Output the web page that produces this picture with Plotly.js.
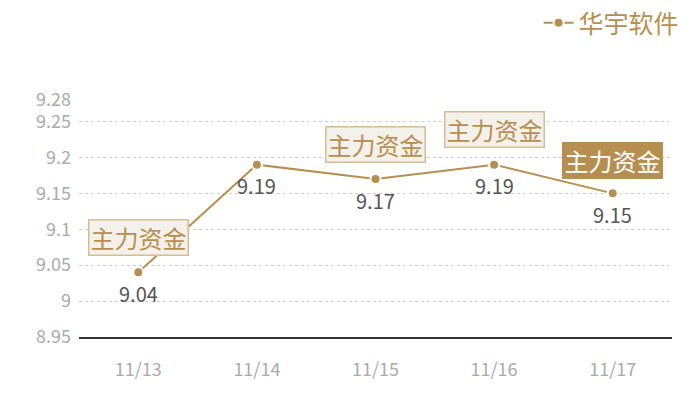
<!DOCTYPE html>
<html>
<head>
<meta charset="utf-8">
<script src="https://cdn.plot.ly/plotly-3.0.1.min.js"></script>
<style>
html, body { margin: 0; padding: 0; background: #fff; }
#chart { width: 700px; height: 400px; }
</style>
</head>
<body>
<div id="chart"></div>
<script>
var days = ['11/13', '11/14', '11/15', '11/16', '11/17'];
var prices = [9.04, 9.19, 9.17, 9.19, 9.15];
var priceLabels = ['9.04', '9.19', '9.17', '9.19', '9.15'];
var yTicks = [8.95, 9, 9.05, 9.1, 9.15, 9.2, 9.25, 9.28];
var yTickText = ['8.95', '9', '9.05', '9.1', '9.15', '9.2', '9.25', '9.28'];
var flagDays = ['11/13', '11/15', '11/16', '11/17'];
var flagText = ['主力资金', '主力资金', '主力资金', '主力资金'];
var seriesName = '华宇软件';

var GOLD = '#b68f50';
var FONT = '"Noto Sans CJK SC", "Noto Sans", sans-serif';

var trace = {
    x: days,
    y: prices,
    name: seriesName,
    mode: 'lines+markers',
    line: { color: GOLD, width: 2 },
    marker: { color: GOLD, size: 10, line: { color: '#fff', width: 2 } },
    cliponaxis: false
};

// price labels under each point
var valueNotes = days.map(function (d, i) {
    return {
        x: d,
        y: prices[i],
        xref: 'x',
        yref: 'y',
        text: priceLabels[i],
        showarrow: false,
        yshift: -21,
        font: { size: 20, color: '#555', family: FONT }
    };
});

var flagNotes = flagDays.map(function (d, i) {
    var last = i === flagDays.length - 1;
    return {
        x: d,
        y: prices[days.indexOf(d)],
        xref: 'x',
        yref: 'y',
        text: flagText[i],
        showarrow: false,
        yshift: last ? 33 : 35,
        width: 98,
        height: 34,
        font: { size: 24, color: last ? '#fff' : GOLD, family: FONT },
        bgcolor: last ? GOLD : '#f4f0ea',
        bordercolor: last ? GOLD : '#d6bc93',
        borderwidth: 1.5,
        borderpad: 0
    };
});

var layout = {
    width: 700,
    height: 400,
    margin: { l: 79, r: 28, t: 100, b: 63 },
    paper_bgcolor: '#fff',
    plot_bgcolor: '#fff',
    font: { family: FONT },
    showlegend: true,
    legend: {
        x: 0.978, xanchor: 'right', xref: 'container',
        y: 1, yanchor: 'top', yref: 'container',
        orientation: 'h',
        font: { size: 25, color: GOLD, family: FONT },
        itemwidth: 30
    },
    xaxis: {
        type: 'category',
        range: [-0.5, 4.5],
        showgrid: false,
        showline: true,
        linecolor: '#333',
        linewidth: 1.5,
        zeroline: false,
        ticks: '',
        ticklabelstandoff: 16,
        tickfont: { size: 18, color: '#aaa', family: FONT }
    },
    yaxis: {
        range: [8.95, 9.28],
        tickvals: yTicks,
        ticktext: yTickText,
        showgrid: true,
        gridcolor: '#ccc',
        griddash: 'dot',
        gridwidth: 1,
        showline: false,
        zeroline: false,
        ticks: '',
        ticklabelstandoff: 7,
        tickfont: { size: 18, color: '#aaa', family: FONT }
    },
    annotations: valueNotes.concat(flagNotes)
};

Plotly.newPlot('chart', [trace], layout, { staticPlot: true });
</script>
</body>
</html>
